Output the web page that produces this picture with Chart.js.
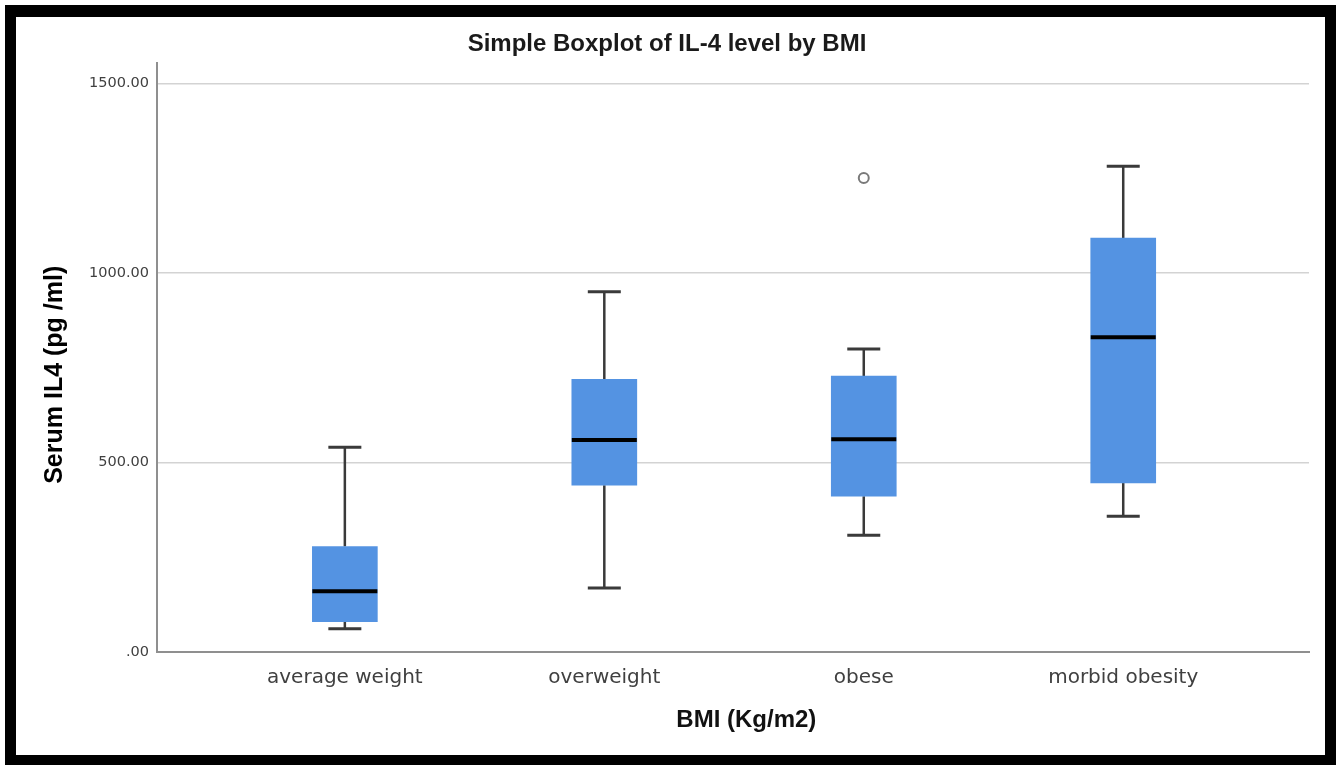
<!DOCTYPE html>
<html>
<head>
<meta charset="utf-8">
<script src="https://cdn.jsdelivr.net/npm/chart.js@4.4.1/dist/chart.umd.min.js"></script>
<style>
  html, body { margin: 0; padding: 0; background: #ffffff; }
  #wrap { position: relative; width: 1336px; height: 765px; }
</style>
</head>
<body>
<div id="wrap"><canvas id="c" width="1336" height="765"></canvas></div>
<script>
// ---- data ----
const categories   = ['average weight', 'overweight', 'obese', 'morbid obesity'];
const whiskerLow   = [61, 169, 308, 358];
const q1Values     = [80, 440, 411, 446];
const medianValues = [160, 559, 561, 830];
const q3Values     = [278, 719, 728, 1092];
const whiskerHigh  = [540, 950, 799, 1281];
const outlierCats  = [2];
const outlierVals  = [1250];
const yTickValues  = [0, 500, 1000, 1500];
const yTickLabels  = ['.00', '500.00', '1000.00', '1500.00'];

const boxData = categories.map((c, i) => ({ x: i, y: [q1Values[i], q3Values[i]] }));
const outlierData = outlierCats.map((c, i) => ({ x: c, y: outlierVals[i] }));

const BOX_W = 65, CAP_W = 33;

const boxplotParts = {
  id: 'boxplotParts',
  beforeDatasetsDraw(chart) {
    const { ctx, scales: { x, y } } = chart;
    ctx.save();
    ctx.strokeStyle = '#3a3a3a';
    ctx.lineCap = 'butt';
    categories.forEach((c, i) => {
      const px = x.getPixelForValue(i);
      const yLo = y.getPixelForValue(whiskerLow[i]);
      const yQ1 = y.getPixelForValue(q1Values[i]);
      const yQ3 = y.getPixelForValue(q3Values[i]);
      const yHi = y.getPixelForValue(whiskerHigh[i]);
      ctx.lineWidth = 2.5;
      ctx.beginPath();
      ctx.moveTo(px, yLo); ctx.lineTo(px, yQ1);
      ctx.moveTo(px, yQ3); ctx.lineTo(px, yHi);
      ctx.stroke();
      ctx.lineWidth = 3;
      ctx.beginPath();
      ctx.moveTo(px - CAP_W / 2, yLo); ctx.lineTo(px + CAP_W / 2, yLo);
      ctx.moveTo(px - CAP_W / 2, yHi); ctx.lineTo(px + CAP_W / 2, yHi);
      ctx.stroke();
    });
    ctx.restore();
  },
  afterDatasetsDraw(chart) {
    const { ctx, scales: { x, y } } = chart;
    ctx.save();
    ctx.strokeStyle = '#000000';
    ctx.lineWidth = 4;
    categories.forEach((c, i) => {
      const px = x.getPixelForValue(i);
      const py = y.getPixelForValue(medianValues[i]);
      ctx.beginPath();
      ctx.moveTo(px - BOX_W / 2, py); ctx.lineTo(px + BOX_W / 2, py);
      ctx.stroke();
    });
    ctx.restore();
  },
  afterDraw(chart) {
    const ctx = chart.ctx;
    ctx.save();
    ctx.fillStyle = '#000000';
    ctx.fillRect(5, 5, 1331, 12);     // top
    ctx.fillRect(5, 5, 11, 760);      // left
    ctx.fillRect(1325, 5, 11, 760);   // right
    ctx.fillRect(5, 755, 1331, 10);   // bottom
    ctx.restore();
  }
};

const bgPlugin = {
  id: 'bg',
  beforeDraw(chart) {
    const ctx = chart.ctx;
    ctx.save();
    ctx.fillStyle = '#ffffff';
    ctx.fillRect(0, 0, chart.width, chart.height);
    ctx.restore();
  }
};

new Chart(document.getElementById('c'), {
  type: 'bar',
  data: {
    datasets: [
      {
        type: 'bar',
        label: 'IQR',
        data: boxData,
        backgroundColor: '#5493e2',
        borderWidth: 0,
        barThickness: BOX_W,
        order: 2
      },
      {
        type: 'scatter',
        label: 'Outliers',
        data: outlierData,
        pointStyle: 'circle',
        pointRadius: 5,
        pointBorderWidth: 2,
        pointBorderColor: '#7a7a7a',
        pointBackgroundColor: '#ffffff',
        order: 1
      }
    ]
  },
  options: {
    responsive: false,
    animation: false,
    layout: { padding: { left: 25, right: 27, top: 18, bottom: 11 } },
    plugins: {
      legend: { display: false },
      tooltip: { enabled: false },
      title: {
        display: true,
        text: 'Simple Boxplot of IL-4 level by BMI',
        color: '#1a1a1a',
        font: { family: '"Liberation Sans", Arial, sans-serif', size: 24, weight: 'bold', lineHeight: 1.2 },
        padding: { top: 12, bottom: 4 }
      }
    },
    scales: {
      x: {
        type: 'linear',
        min: -0.724,
        max: 3.716,
        offset: false,
        afterBuildTicks(scale) { scale.ticks = categories.map((c, i) => ({ value: i })); },
        afterFit(scale) { scale.height = 102; },
        ticks: {
          includeBounds: false,
          autoSkip: false,
          maxRotation: 0,
          padding: 14,
          color: '#404040',
          font: { family: '"DejaVu Sans", sans-serif', size: 20 },
          callback: (v) => categories[v] !== undefined ? categories[v] : ''
        },
        grid: { display: false, drawTicks: false },
        border: { display: true, color: '#8f8f8f', width: 2 },
        title: {
          display: true,
          text: '    BMI (Kg/m2)',
          color: '#111111',
          font: { family: '"Liberation Sans", Arial, sans-serif', size: 24, weight: 'bold', lineHeight: 1.2 },
          padding: { top: 0, bottom: 19 }
        }
      },
      y: {
        type: 'linear',
        min: 0,
        max: 1554,
        afterBuildTicks(scale) { scale.ticks = yTickValues.map(v => ({ value: v })); },
        afterFit(scale) { scale.width = 132; },
        ticks: {
          includeBounds: false,
          padding: 8,
          color: '#404040',
          font: { family: '"DejaVu Sans", sans-serif', size: 14.5 },
          callback: (v) => yTickLabels[yTickValues.indexOf(v)]
        },
        grid: { color: '#d3d3d3', lineWidth: 1.5, drawTicks: false },
        border: { display: true, color: '#8f8f8f', width: 2 },
        title: {
          display: true,
          text: 'Serum IL4 (pg /ml)     ',
          color: '#000000',
          font: { family: '"Liberation Sans", Arial, sans-serif', size: 25, weight: 'bold', lineHeight: 1.2 },
          padding: { top: 15, bottom: 0 }
        }
      }
    }
  },
  plugins: [bgPlugin, boxplotParts]
});
</script>
</body>
</html>
